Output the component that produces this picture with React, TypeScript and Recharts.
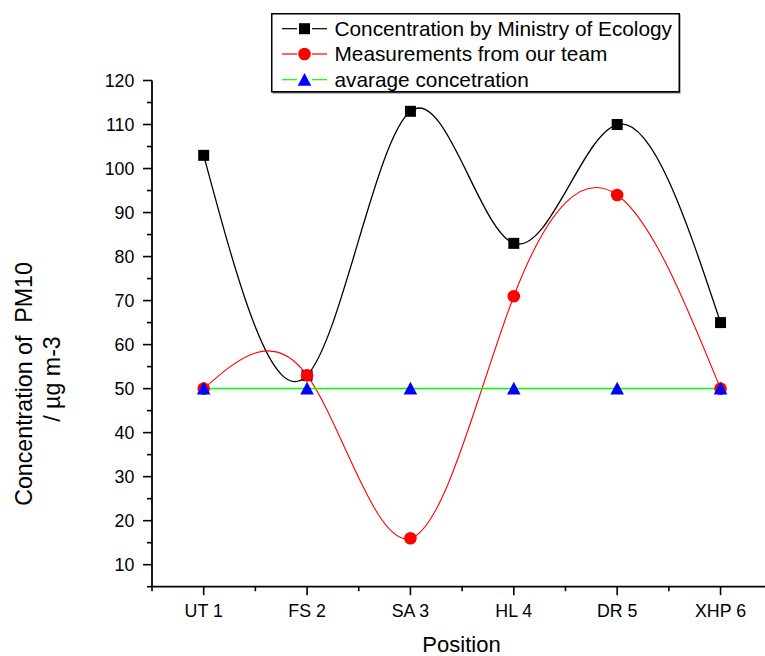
import React from 'react'
import { LineChart, Line, XAxis, YAxis, Legend } from 'recharts'

const positions = ['UT 1', 'FS 2', 'SA 3', 'HL 4', 'DR 5', 'XHP 6']
const ministry = [103, 53, 113, 83, 110, 65]
const team = [50, 53, 16, 71, 94, 50]
const average = [50, 50, 50, 50, 50, 50]

const xTicks = [0.5, 1, 1.5, 2, 2.5, 3, 3.5, 4, 4.5, 5, 5.5, 6]
const yTicks = [5, 10, 15, 20, 25, 30, 35, 40, 45, 50, 55, 60, 65, 70, 75, 80, 85, 90, 95, 100, 105, 110, 115, 120]

const FONT = '"Liberation Sans", Arial, Helvetica, sans-serif'

const data = positions.map((name, i) => ({
  pos: i + 1,
  name,
  ministry: ministry[i],
  team: team[i],
  average: average[i],
}))

type Shape = 'square' | 'circle' | 'triangle'

const series: { key: string; name: string; color: string; line: string; width: number; shape: Shape }[] = [
  { key: 'ministry', name: 'Concentration by Ministry of Ecology', color: '#000000', line: '#000000', width: 1.3, shape: 'square' },
  { key: 'team', name: 'Measurements from our team', color: '#ff0000', line: '#ff0000', width: 1.1, shape: 'circle' },
  { key: 'average', name: 'avarage concetration', color: '#0000ff', line: '#00ff00', width: 1.5, shape: 'triangle' },
]

const Marker = ({ cx, cy, shape, color }: { cx: number; cy: number; shape: Shape; color: string }) => {
  if (shape === 'square') return <rect x={cx - 5.5} y={cy - 5.5} width={11} height={11} fill={color} />
  if (shape === 'circle') return <circle cx={cx} cy={cy} r={6.3} fill={color} />
  return <polygon points={`${cx},${cy - 6.8} ${cx - 6.8},${cy + 6} ${cx + 6.8},${cy + 6}`} fill={color} />
}

const makeDot = (shape: Shape, color: string) => (props: any) => {
  const { cx, cy, index } = props
  if (cx == null || cy == null) return <g key={`e-${index}`} />
  return (
    <g key={`${shape}-${index}`}>
      <Marker cx={cx} cy={cy} shape={shape} color={color} />
    </g>
  )
}

const XTick = (props: any) => {
  const { x, y, payload } = props
  const v = payload.value
  const major = Number.isInteger(v)
  return (
    <g>
      <line x1={x} y1={y} x2={x} y2={y + (major ? 8.5 : 4.5)} stroke="#000" strokeWidth={1.6} />
      {major && (
        <text x={x} y={y + 30.7} textAnchor="middle" fontSize={17.8} fontFamily={FONT} fill="#000">
          {positions[v - 1]}
        </text>
      )}
    </g>
  )
}

const YTick = (props: any) => {
  const { x, y, payload } = props
  const v = payload.value
  const major = v % 10 === 0
  return (
    <g>
      <line x1={x} y1={y} x2={x - (major ? 9 : 5)} y2={y} stroke="#000" strokeWidth={1.6} />
      {major && (
        <text x={x - 17.7} y={y + 6.4} textAnchor="end" fontSize={17.8} fontFamily={FONT} fill="#000">
          {v}
        </text>
      )}
    </g>
  )
}

const XTitle = (props: any) => {
  const { x, y, width } = props.viewBox
  return (
    <text x={x + width / 2 + 3} y={y + 65.5} textAnchor="middle" fontSize={22} fontFamily={FONT} fill="#000">
      Position
    </text>
  )
}

const YTitle = (props: any) => {
  const { y } = props.viewBox
  const c1 = y + 303.5
  const c2 = y + 298.5
  return (
    <g>
      <text
        x={32}
        y={c1}
        transform={`rotate(-90 32 ${c1})`}
        textAnchor="middle"
        fontSize={23.2}
        fontFamily={FONT}
        fill="#000"
        style={{ whiteSpace: 'pre' }}
      >
        {'Concentration of  PM10'}
      </text>
      <text
        x={60}
        y={c2}
        transform={`rotate(-90 60 ${c2})`}
        textAnchor="middle"
        fontSize={23.2}
        fontFamily={FONT}
        fill="#000"
      >
        / µg m-3
      </text>
    </g>
  )
}

const LegendBox = () => {
  const rows = [15.7, 41, 66.7]
  return (
    <svg width={410} height={81} style={{ display: 'block' }}>
      <rect x={1.5} y={1.5} width={408} height={79} fill="#777" />
      <rect x={0.75} y={0.75} width={407.5} height={78} fill="#fff" stroke="#000" strokeWidth={1.5} />
      {series.map((s, i) => (
        <g key={s.key}>
          <line x1={11} y1={rows[i]} x2={26} y2={rows[i]} stroke={s.line} strokeWidth={1.2} />
          <line x1={41} y1={rows[i]} x2={56} y2={rows[i]} stroke={s.line} strokeWidth={1.2} />
          <Marker cx={33.5} cy={rows[i]} shape={s.shape} color={s.color} />
          <text x={63.5} y={rows[i] + 7.4} fontSize={20.8} fontFamily={FONT} fill="#000">
            {s.name}
          </text>
        </g>
      ))}
    </svg>
  )
}

export default function App() {
  return (
    <div style={{ position: 'absolute', left: 0, top: 0, width: 765, height: 656, background: '#fff' }}>
      <LineChart width={765} height={656} data={data} margin={{ top: 80.5, right: 0, bottom: 39.3, left: 0 }}>
        <XAxis
          dataKey="pos"
          type="number"
          domain={[0.5, 6.43]}
          ticks={xTicks}
          interval={0}
          height={30}
          tickSize={0}
          tickMargin={0}
          tickLine={false}
          tick={<XTick />}
          axisLine={{ stroke: '#000', strokeWidth: 1.8 }}
          label={<XTitle />}
          allowDataOverflow
        />
        <YAxis
          type="number"
          domain={[5, 120]}
          ticks={yTicks}
          interval={0}
          width={152}
          tickSize={0}
          tickMargin={0}
          tickLine={false}
          tick={<YTick />}
          axisLine={{ stroke: '#000', strokeWidth: 1.8 }}
          label={<YTitle />}
          allowDataOverflow
        />
        <Legend
          layout="vertical"
          align="center"
          verticalAlign="middle"
          content={<LegendBox />}
          wrapperStyle={{ left: 270.7, top: 13.3, width: 410, height: 81 }}
        />
        {series.map((s) => (
          <Line
            key={s.key}
            type="natural"
            dataKey={s.key}
            name={s.name}
            stroke={s.line}
            strokeWidth={s.width}
            dot={makeDot(s.shape, s.color)}
            activeDot={false}
            isAnimationActive={false}
          />
        ))}
      </LineChart>
    </div>
  )
}
